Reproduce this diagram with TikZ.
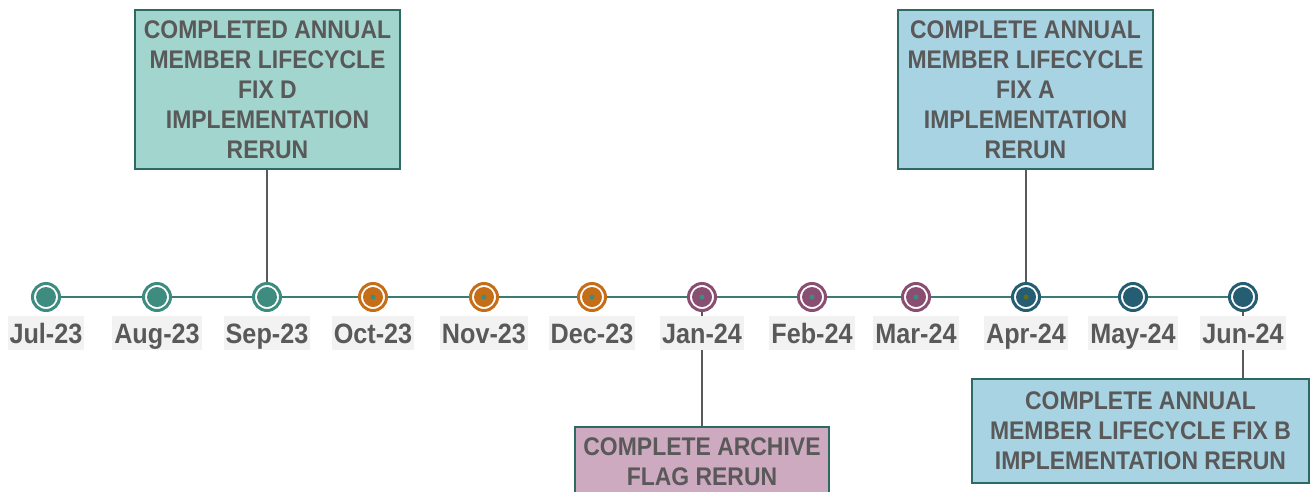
\documentclass[tikz,border=0pt]{standalone}
\usepackage{fontspec}
\setmainfont{Liberation Sans}[FakeStretch=0.9]
\definecolor{cteal}{HTML}{3E8C80}
\definecolor{corange}{HTML}{C66E17}
\definecolor{cpurple}{HTML}{8A4E72}
\definecolor{cdblue}{HTML}{255E72}
\definecolor{cline}{HTML}{3A7A77}
\definecolor{ctext}{HTML}{595959}
\definecolor{clabbg}{HTML}{F2F2F2}
\definecolor{cborder}{HTML}{2D6A64}
\definecolor{cfillA}{HTML}{A2D5CE}
\definecolor{cfillB}{HTML}{A8D3E3}
\definecolor{cfillC}{HTML}{CEAAC1}
\definecolor{colive}{HTML}{676A1E}
\pgfdeclarelayer{bg}
\pgfsetlayers{bg,main}
\tikzset{
  marker/.style={circle, inner sep=0pt, minimum size=27pt, fill=white, draw=#1,
    line width=3pt,
    path picture={\fill[#1] (path picture bounding box.center) circle[radius=10pt];}},
  mlabel/.style={fill=clabbg, text=ctext, font=\bfseries\fontsize{28}{30}\selectfont,
    inner xsep=2pt, inner ysep=6pt, text height=21pt, text depth=1pt},
  tbox/.style={draw=cborder, line width=2pt, fill=#1, text=ctext, align=center,
    font=\bfseries\fontsize{25.5}{30}\selectfont, inner sep=0pt},
  conn/.style={draw=ctext, line width=2pt},
  tline/.style={draw=cline, line width=2.5pt}
}
\begin{document}
\begin{tikzpicture}[x=1pt,y=-1pt]
\clip (0,0) rectangle (1310,491);
% markers
\node[marker=cteal] (m1) at (46,297) {};
\node[marker=cteal] (m2) at (157,297) {};
\node[marker=cteal] (m3) at (267,297) {};
\node[marker=corange] (m4) at (373,297) {};
\node[marker=corange] (m5) at (484,297) {};
\node[marker=corange] (m6) at (592,297) {};
\node[marker=cpurple] (m7) at (702,297) {};
\node[marker=cpurple] (m8) at (812,297) {};
\node[marker=cpurple] (m9) at (916,297) {};
\node[marker=cdblue] (m10) at (1026,297) {};
\node[marker=cdblue] (m11) at (1133,297) {};
\node[marker=cdblue] (m12) at (1243,297) {};
% center dots
\foreach \m in {m4,m5,m6,m7,m8,m9}
  \fill[cteal] (\m.center) circle[radius=2.5pt];
\fill[colive] (m10.center) circle[radius=2.5pt];
% month labels
\node[mlabel] (l1) at (46,333) {Jul-23};
\node[mlabel] (l2) at (157,333) {Aug-23};
\node[mlabel] (l3) at (267,333) {Sep-23};
\node[mlabel] (l4) at (373,333) {Oct-23};
\node[mlabel] (l5) at (484,333) {Nov-23};
\node[mlabel] (l6) at (592,333) {Dec-23};
\node[mlabel] (l7) at (702,333) {Jan-24};
\node[mlabel] (l8) at (812,333) {Feb-24};
\node[mlabel] (l9) at (916,333) {Mar-24};
\node[mlabel] (l10) at (1026,333) {Apr-24};
\node[mlabel] (l11) at (1133,333) {May-24};
\node[mlabel] (l12) at (1243,333) {Jun-24};
% boxes
\node[tbox=cfillA, minimum width=265pt, minimum height=159pt] (bD) at (267.5,89.5)
  {COMPLETED ANNUAL\\MEMBER LIFECYCLE\\FIX D\\IMPLEMENTATION\\RERUN};
\node[tbox=cfillB, minimum width=255pt, minimum height=159pt] (bA) at (1025.5,89.5)
  {COMPLETE ANNUAL\\MEMBER LIFECYCLE\\FIX A\\IMPLEMENTATION\\RERUN};
\node[tbox=cfillC, minimum width=254pt, minimum height=70pt] (bArch) at (702,462)
  {COMPLETE ARCHIVE\\FLAG RERUN};
\node[tbox=cfillB, minimum width=337pt, minimum height=104pt] (bB) at (1140.5,431)
  {COMPLETE ANNUAL\\MEMBER LIFECYCLE FIX B\\IMPLEMENTATION RERUN};
% connectors and timeline
\begin{pgfonlayer}{bg}
  \draw[tline] (m1.center) -- (m12.center);
  \draw[conn] (bD.south -| m3.center) -- (m3.center);
  \draw[conn] (bA.south -| m10.center) -- (m10.center);
  \draw[conn] (m7.center) -- (m7.center |- bArch.north);
  \draw[conn] (m12.center) -- (m12.center |- bB.north);
\end{pgfonlayer}
\end{tikzpicture}
\end{document}
